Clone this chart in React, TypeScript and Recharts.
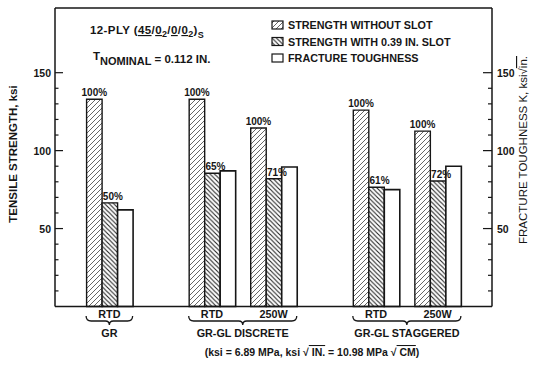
import React from 'react';
import { BarChart, Bar, XAxis, YAxis, ReferenceLine, LabelList } from 'recharts';

// one entry per test condition, left to right
const conditions = ['RTD', 'RTD', '250W', 'RTD', '250W'];
const positions = [1, 6, 9, 14, 17];
const noSlotStrength = [133, 133, 114.5, 126, 112.5];
const slotStrength = [66.5, 85.5, 82, 76.5, 80.5];
const toughness = [62, 87, 89.5, 75, 90];
const noSlotPct = ['100%', '100%', '100%', '100%', '100%'];
const slotPct = ['50%', '65%', '71%', '61%', '72%'];

// material groups under the braces
const groups = ['GR', 'GR-GL DISCRETE', 'GR-GL STAGGERED'];
const groupFrom = [1, 6, 14];
const groupTo = [1, 9, 17];

const yTicks = [0, 10, 20, 30, 40, 50, 60, 70, 80, 90, 100, 110, 120, 130, 140, 150];
const yMax = 191.5;
const xDomain: [number, number] = [-1.65, 19.65];

const W = 535;
const H = 382;
const PLOT_LEFT = 55;
const PLOT_RIGHT = 492;
const BAR = 15.5;
const pxPerUnit = (PLOT_RIGHT - PLOT_LEFT) / (xDomain[1] - xDomain[0]);

const FONT = '"Liberation Sans", Arial, Helvetica, sans-serif';
const INK = '#161616';

const data = positions.map((p, i) => ({
  pos: p,
  noSlot: noSlotStrength[i],
  slot: slotStrength[i],
  tough: toughness[i],
  noSlotPct: noSlotPct[i],
  slotPct: slotPct[i],
}));

const LeftTick = (props: any) => {
  const { x, y, payload } = props;
  const v = payload.value;
  if (v === 0) return null;
  const major = v % 50 === 0;
  return (
    <g>
      <line x1={x} x2={x + (major ? 8 : 3.5)} y1={y} y2={y} stroke={INK} strokeWidth={1.2} />
      {major && (
        <text x={x - 4} y={y + 4} textAnchor="end" fontFamily={FONT} fontWeight="bold" fontSize={10.5} fill={INK}>
          {v}
        </text>
      )}
    </g>
  );
};

const RightTick = (props: any) => {
  const { x, y, payload } = props;
  const v = payload.value;
  if (v === 0) return null;
  const major = v % 50 === 0;
  return (
    <g>
      <line x1={x - (major ? 9 : 4)} x2={x} y1={y} y2={y} stroke={INK} strokeWidth={1.2} />
      {major && (
        <text x={x + 5} y={y + 4} textAnchor="start" fontFamily={FONT} fontWeight="bold" fontSize={10.5} fill={INK}>
          {v}
        </text>
      )}
    </g>
  );
};

// condition label, plus the group brace and name under the first bar group of each material
const CondTick = (props: any) => {
  const { x, y, payload } = props;
  const i = positions.indexOf(payload.value);
  const g = groupFrom.indexOf(payload.value);
  let brace = null;
  if (g >= 0) {
    const half = (BAR * 3) / 2;
    const l = x - half;
    const r = x + (groupTo[g] - groupFrom[g]) * pxPerUnit + half;
    const c = (l + r) / 2;
    const by = y + 14.5;
    const d = `M${l},${by - 5} Q${l},${by} ${l + 5},${by} L${c - 4},${by} Q${c},${by} ${c},${by + 4} Q${c},${by} ${c + 4},${by} L${r - 5},${by} Q${r},${by} ${r},${by - 5}`;
    brace = (
      <g>
        <path d={d} fill="none" stroke={INK} strokeWidth={1.3} />
        <text x={c} y={by + 15.5} textAnchor="middle" fontFamily={FONT} fontWeight="bold" fontSize={10.8} fill={INK}>
          {groups[g]}
        </text>
      </g>
    );
  }
  return (
    <g>
      <text x={x} y={y + 11.5} textAnchor="middle" fontFamily={FONT} fontWeight="bold" fontSize={10.8} fill={INK}>
        {conditions[i]}
      </text>
      {brace}
    </g>
  );
};

const pctLabel = (dx: number) => (props: any) => {
  const { x, y, width, value } = props;
  return (
    <text x={x + width / 2 + dx} y={y - 3} textAnchor="middle" fontFamily={FONT} fontWeight="bold" fontSize={10} fill={INK}>
      {value}
    </text>
  );
};

const legendItems = [
  { label: 'STRENGTH WITHOUT SLOT', fill: 'url(#hatchNoSlot)' },
  { label: 'STRENGTH WITH 0.39 IN. SLOT', fill: 'url(#hatchSlot)' },
  { label: 'FRACTURE TOUGHNESS', fill: '#fff' },
];

export default function App() {
  return (
    <div style={{ position: 'absolute', left: 0, top: 0, width: W, height: H, background: '#fff' }}>
      <BarChart
        width={W}
        height={H}
        data={data}
        margin={{ top: 8, left: 15, right: 3, bottom: 31.5 }}
        barGap={0}
        barSize={BAR}
      >
        <defs>
          <pattern id="hatchNoSlot" width={5} height={5} patternUnits="userSpaceOnUse">
            <rect width={5} height={5} fill="#fff" />
            <path d="M-1,1 l2,-2 M0,5 l5,-5 M4,6 l2,-2" stroke="#333" strokeWidth={0.75} />
          </pattern>
          <pattern id="hatchSlot" width={4.5} height={4.5} patternUnits="userSpaceOnUse">
            <rect width={4.5} height={4.5} fill="#fff" />
            <path d="M-1,3.5 l2,2 M0,0 l4.5,4.5 M3.5,-1 l2,2" stroke="#222" strokeWidth={1.1} />
          </pattern>
        </defs>
        <XAxis
          dataKey="pos"
          type="number"
          domain={xDomain}
          ticks={positions}
          interval={0}
          height={44}
          tickSize={0}
          tickMargin={0}
          tick={<CondTick />}
          axisLine={{ stroke: INK, strokeWidth: 1.5 }}
        />
        <YAxis
          yAxisId="left"
          width={40}
          domain={[0, yMax]}
          ticks={yTicks}
          interval={0}
          tickSize={0}
          tickMargin={0}
          tick={<LeftTick />}
          axisLine={{ stroke: INK, strokeWidth: 1.5 }}
        />
        <YAxis
          yAxisId="right"
          orientation="right"
          width={40}
          domain={[0, yMax]}
          ticks={yTicks}
          interval={0}
          tickSize={0}
          tickMargin={0}
          tick={<RightTick />}
          axisLine={{ stroke: INK, strokeWidth: 1.5 }}
        />
        <ReferenceLine yAxisId="left" y={yMax} stroke={INK} strokeWidth={1.5} />
        <Bar yAxisId="left" dataKey="noSlot" fill="url(#hatchNoSlot)" stroke={INK} strokeWidth={1.4} isAnimationActive={false}>
          <LabelList dataKey="noSlotPct" content={pctLabel(0)} />
        </Bar>
        <Bar yAxisId="left" dataKey="slot" fill="url(#hatchSlot)" stroke={INK} strokeWidth={1.4} isAnimationActive={false}>
          <LabelList dataKey="slotPct" content={pctLabel(3)} />
        </Bar>
        <Bar yAxisId="right" dataKey="tough" fill="#fff" stroke={INK} strokeWidth={1.6} isAnimationActive={false} />
      </BarChart>

      <svg width={W} height={H} style={{ position: 'absolute', left: 0, top: 0, pointerEvents: 'none' }}>
        <g fontFamily={FONT} fontWeight="bold" fill={INK}>
          {/* layup header */}
          <text x={90} y={34} fontSize={11.5} letterSpacing={0.4}>
            <tspan>12-PLY (</tspan>
            <tspan textDecoration="underline">45</tspan>
            <tspan>/</tspan>
            <tspan textDecoration="underline">0</tspan>
            <tspan fontSize={9} dy={3}>2</tspan>
            <tspan dy={-3}>/</tspan>
            <tspan textDecoration="underline">0</tspan>
            <tspan>/</tspan>
            <tspan textDecoration="underline">0</tspan>
            <tspan fontSize={9} dy={3}>2</tspan>
            <tspan dy={-3}>)</tspan>
            <tspan fontSize={9} dy={4}>S</tspan>
          </text>
          <text x={93} y={60} fontSize={11.5}>
            <tspan>T</tspan>
            <tspan fontSize={11} dy={5}>NOMINAL</tspan>
            <tspan dy={-2}> = 0.112 IN.</tspan>
          </text>

          {/* legend */}
          {legendItems.map((it, i) => (
            <g key={it.label}>
              <rect x={272} y={21 + i * 16.5} width={11} height={8} fill={it.fill} stroke={INK} strokeWidth={1.2} />
              <text x={288} y={29 + i * 16.5} fontSize={10.8}>
                {it.label}
              </text>
            </g>
          ))}

          {/* axis titles */}
          <text x={0} y={0} fontSize={11.5} textAnchor="middle" transform="translate(17,154) rotate(-90)">
            TENSILE STRENGTH, ksi
          </text>
          <text x={0} y={0} fontSize={11.5} fontWeight="normal" textAnchor="middle" transform="translate(527,150) rotate(-90)">
            <tspan>FRACTURE TOUGHNESS K, ksi</tspan>
            <tspan>√</tspan>
            <tspan textDecoration="overline">in.</tspan>
          </text>

          {/* unit note */}
          <text x={312} y={356} fontSize={10.5} textAnchor="middle">
            <tspan>(ksi = 6.89 MPa, ksi </tspan>
            <tspan>√</tspan>
            <tspan textDecoration="overline"> IN.</tspan>
            <tspan> = 10.98 MPa </tspan>
            <tspan>√</tspan>
            <tspan textDecoration="overline"> CM</tspan>
            <tspan>)</tspan>
          </text>
        </g>
      </svg>
    </div>
  );
}
